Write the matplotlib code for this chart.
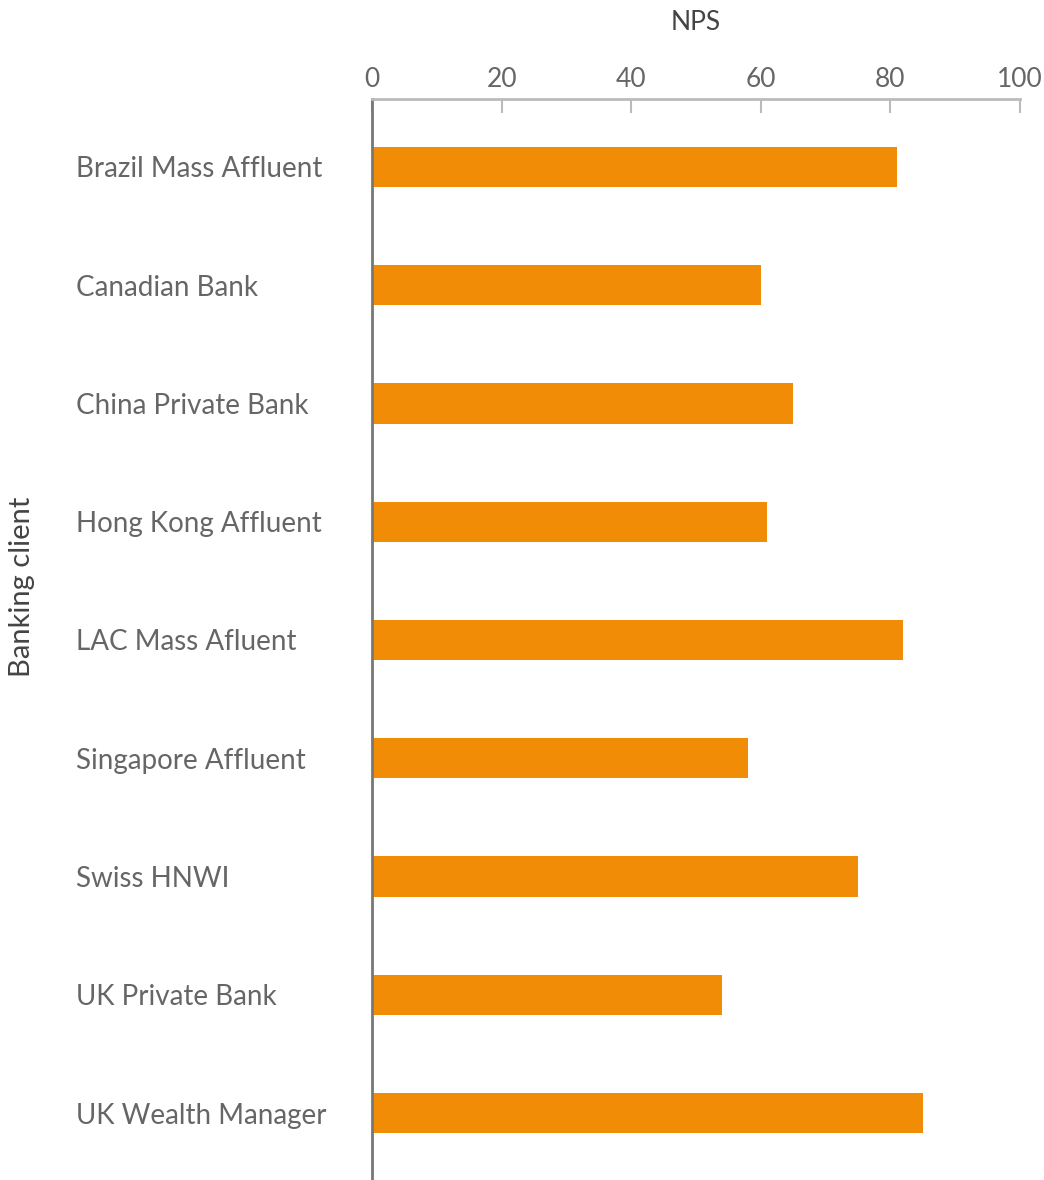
import matplotlib
matplotlib.use('Agg')
from matplotlib import pyplot as plt
import numpy as np

# data
clients = ['Brazil Mass Affluent', 'Canadian Bank', 'China Private Bank',
           'Hong Kong Affluent', 'LAC Mass Afluent', 'Singapore Affluent',
           'Swiss HNWI', 'UK Private Bank', 'UK Wealth Manager']
nps = [81, 60, 65, 61, 82, 58, 75, 54, 85]
x_ticks = [0, 20, 40, 60, 80, 100]

plt.rcParams['font.family'] = ['Lato', 'DejaVu Sans']

W, H = 1044, 1180
fig = plt.figure(figsize=(W / 100, H / 100), dpi=100)
ax = fig.add_axes([372 / W, -1 / H, (1020 - 372) / W, (1180 - 98) / H])

pos = np.arange(len(clients))
ax.barh(pos, nps, height=0.34, color='#f08c05')
ax.set_xlim(0, 100)
ax.set_ylim(len(clients) - 1 + 0.575, -0.575)

# x axis on top
ax.xaxis.set_ticks_position('top')
ax.xaxis.set_label_position('top')
ax.set_xticks(x_ticks)
ax.tick_params(axis='x', direction='in', length=10, width=1.5, color='#bbbbbb',
               labelsize=19, labelcolor='#666666', pad=5)
ax.set_xlabel('NPS', fontsize=19, color='#444444', labelpad=27)

# category labels, left aligned
ax.set_yticks(pos)
ax.set_yticklabels(clients, fontsize=20, color='#666666', ha='left')
ax.tick_params(axis='y', length=0, pad=213)

for s in ['right', 'bottom']:
    ax.spines[s].set_visible(False)
ax.spines['top'].set_color('#bbbbbb')
ax.spines['top'].set_linewidth(2)
ax.spines['left'].set_color('#777777')
ax.spines['left'].set_linewidth(2)

fig.text(22 / W, 1 - 587 / H, 'Banking client', rotation=90, fontsize=21,
         color='#444444', ha='center', va='center')

fig.savefig('out.png', dpi=100)
